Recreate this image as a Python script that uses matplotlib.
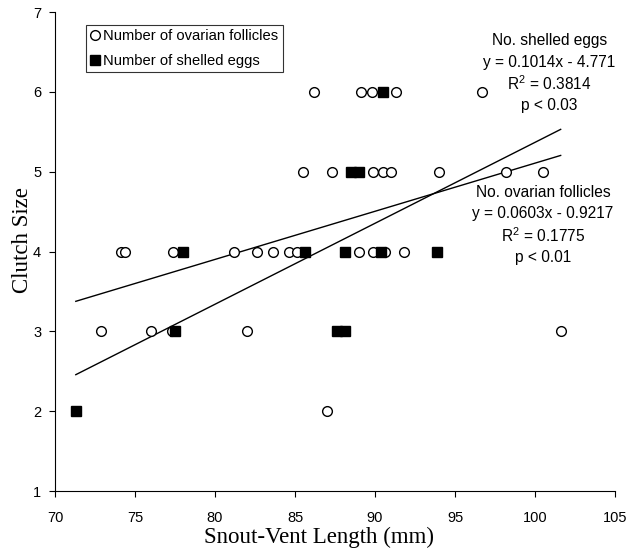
import matplotlib
matplotlib.use('Agg')
import matplotlib.pyplot as plt
import numpy as np

plt.rcParams['font.family'] = ['Liberation Sans', 'DejaVu Sans']
plt.rcParams['mathtext.default'] = 'regular'

# ovarian follicles (open circles)
foll_x = [86.2, 89.1, 89.8, 91.3, 96.7,
          85.5, 87.3, 89.9, 90.5, 91.0, 94.0, 98.2, 100.5,
          74.1, 74.4, 77.4, 81.2, 82.6, 83.6, 84.6, 85.1, 89.0, 89.9, 90.6, 91.8,
          72.9, 76.0, 77.3, 82.0, 101.6,
          87.0]
foll_y = [6, 6, 6, 6, 6,
          5, 5, 5, 5, 5, 5, 5, 5,
          4, 4, 4, 4, 4, 4, 4, 4, 4, 4, 4, 4,
          3, 3, 3, 3, 3,
          2]

# shelled eggs (filled squares)
egg_x = [90.5, 88.5, 89.0, 78.0, 85.6, 88.1, 90.4, 93.9, 77.5, 87.6, 88.1, 71.3]
egg_y = [6, 5, 5, 4, 4, 4, 4, 4, 3, 3, 3, 2]

# regression lines
egg_fit = (0.1014, -4.771)
foll_fit = (0.0603, -0.9217)

fig = plt.figure(figsize=(6.3, 5.5), dpi=100)
ax = fig.add_axes([0.0873, 0.107, 0.889, 0.871])

ax.plot(foll_x, foll_y, 'o', ms=7, mfc='white', mec='black', mew=1.0,
        ls='none', label='Number of ovarian follicles', zorder=3)
ax.plot(egg_x, egg_y, 's', ms=7, mfc='black', mec='black',
        ls='none', label='Number of shelled eggs', zorder=3)

allx = foll_x + egg_x
xx = np.array([min(allx), max(allx)])
ax.plot(xx, egg_fit[0] * xx + egg_fit[1], color='black', lw=1.0, zorder=2)
ax.plot(xx, foll_fit[0] * xx + foll_fit[1], color='black', lw=1.0, zorder=2)

ax.set_xlim(70, 105)
ax.set_ylim(1, 7)
ax.set_xticks(range(70, 106, 5))
ax.set_yticks(range(1, 8))
ax.tick_params(labelsize=10.5, direction='out', length=4)
ax.tick_params(axis='x', pad=10)
ax.tick_params(axis='y', pad=6)
ax.spines['top'].set_visible(False)
ax.spines['right'].set_visible(False)

ax.set_xlabel('Snout-Vent Length (mm)', family='Liberation Serif', fontsize=16.5)
ax.set_ylabel('Clutch Size', family='Liberation Serif', fontsize=16.5)
ax.xaxis.set_label_coords(0.471, -0.075)
ax.yaxis.set_label_coords(-0.04, 0.524)

leg = ax.legend(loc='upper left', bbox_to_anchor=(0.055, 0.973), fontsize=10.6,
                frameon=True, fancybox=False, handlelength=0.6, handletextpad=0.3,
                borderpad=0.3, labelspacing=0.7, borderaxespad=0)
leg.get_frame().set_edgecolor('black')
leg.get_frame().set_linewidth(0.8)

egg_txt = ['No. shelled eggs', 'y = 0.1014x - 4.771', 'R$^2$ = 0.3814', 'p < 0.03']
egg_ty = [6.65, 6.37, 6.1, 5.83]
for t, yy in zip(egg_txt, egg_ty):
    ax.text(100.9, yy, t, ha='center', va='center', fontsize=11.2)

foll_txt = ['No. ovarian follicles', 'y = 0.0603x - 0.9217', 'R$^2$ = 0.1775', 'p < 0.01']
foll_ty = [4.74, 4.475, 4.2, 3.93]
for t, yy in zip(foll_txt, foll_ty):
    ax.text(100.5, yy, t, ha='center', va='center', fontsize=11.2)

fig.savefig('out.png', dpi=100)
